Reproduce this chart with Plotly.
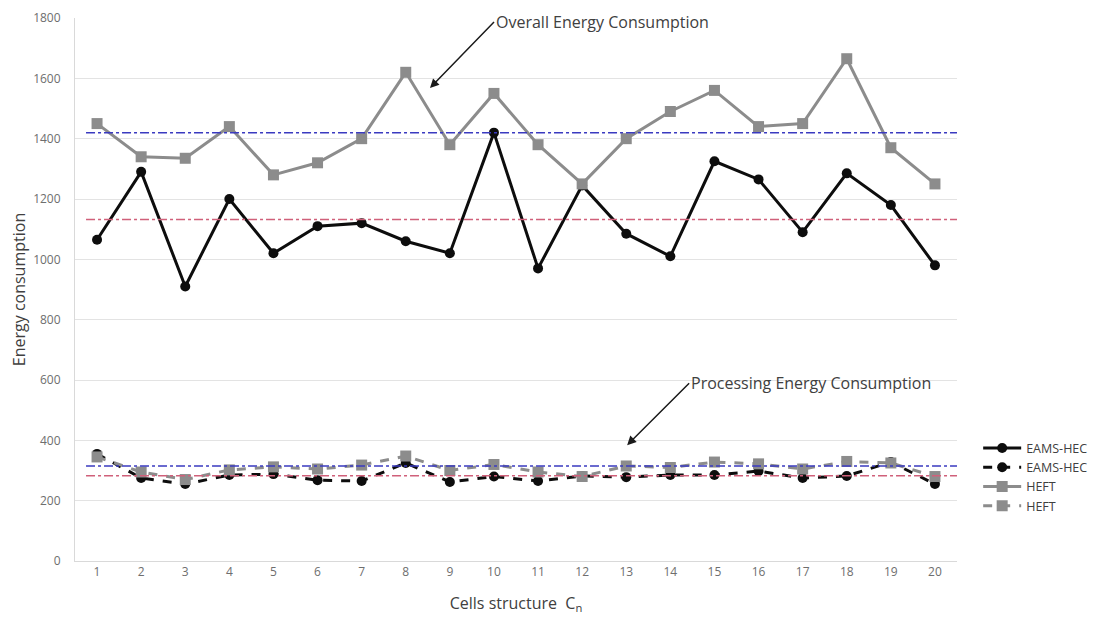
import plotly.graph_objects as go

cells = list(range(1, 21))
tick_labels = [str(c) for c in cells]

eams_overall = [1065, 1290, 910, 1200, 1020, 1110, 1120, 1060, 1020, 1420,
                970, 1245, 1085, 1010, 1325, 1265, 1090, 1285, 1180, 980]
heft_overall = [1450, 1340, 1335, 1440, 1280, 1320, 1400, 1620, 1380, 1550,
                1380, 1250, 1400, 1490, 1560, 1440, 1450, 1665, 1370, 1250]
eams_proc = [355, 275, 255, 285, 288, 268, 265, 325, 262, 280,
             265, 282, 278, 285, 285, 298, 275, 282, 328, 255]
heft_proc = [345, 295, 270, 302, 312, 305, 318, 348, 300, 320,
             295, 280, 315, 310, 328, 322, 305, 330, 325, 280]

avg_lines = [(1420, "#3a3ac0"), (1132, "#d0607a"), (315, "#3a3ac0"), (283, "#d0607a")]

BLACK = "#0d0d0d"
GRAY = "#8c8c8c"
FONT = "Open Sans"

fig = go.Figure()
fig.add_trace(go.Scatter(x=cells, y=eams_overall, name="EAMS-HEC", mode="lines+markers",
                         line=dict(color=BLACK, width=3), marker=dict(symbol="circle", size=10, color=BLACK)))
fig.add_trace(go.Scatter(x=cells, y=eams_proc, name="EAMS-HEC", mode="lines+markers",
                         line=dict(color=BLACK, width=3, dash="dash"), marker=dict(symbol="circle", size=10, color=BLACK)))
fig.add_trace(go.Scatter(x=cells, y=heft_overall, name="HEFT", mode="lines+markers",
                         line=dict(color=GRAY, width=3), marker=dict(symbol="square", size=11, color=GRAY)))
fig.add_trace(go.Scatter(x=cells, y=heft_proc, name="HEFT", mode="lines+markers",
                         line=dict(color=GRAY, width=3, dash="dash"), marker=dict(symbol="square", size=11, color=GRAY)))

for val, col in avg_lines:
    fig.add_shape(type="line", xref="x", yref="y", x0=0.75, x1=20.5, y0=val, y1=val,
                  line=dict(color=col, width=1.5, dash="dashdot"), layer="above")

fig.add_annotation(x=8.55, y=1568, xref="x", yref="y", ax=64, ay=-66,
                   text="Overall Energy Consumption", xanchor="left", yanchor="middle",
                   showarrow=True, arrowhead=2, arrowsize=1.2, arrowwidth=1.5, arrowcolor="#1a1a1a",
                   font=dict(family=FONT, size=16, color="#404040"))
fig.add_annotation(x=13.02, y=384, xref="x", yref="y", ax=62, ay=-62,
                   text="Processing Energy Consumption", xanchor="left", yanchor="middle",
                   showarrow=True, arrowhead=2, arrowsize=1.2, arrowwidth=1.5, arrowcolor="#1a1a1a",
                   font=dict(family=FONT, size=16, color="#404040"))

fig.update_layout(
    width=1106, height=620,
    margin=dict(l=67, r=157, t=10, b=67, autoexpand=False),
    paper_bgcolor="white", plot_bgcolor="white",
    font=dict(family=FONT, size=12, color="#6e6e6e"),
    legend=dict(x=1.024, y=0.155, xanchor="left", yanchor="middle",
                font=dict(family=FONT, size=12.5, color="#404040"),
                tracegroupgap=0, itemwidth=38, bgcolor="rgba(0,0,0,0)"),
    xaxis=dict(range=[0.5, 20.5], tickmode="array", tickvals=cells, ticktext=tick_labels,
               showgrid=False, showline=True, linecolor="#d9d9d9", linewidth=1, automargin=False,
               ticks="", tickfont=dict(size=12, color="#6e6e6e"), zeroline=False,
               title=dict(text="Cells structure  C<sub>n</sub>", font=dict(size=16, color="#404040"), standoff=18)),
    yaxis=dict(range=[0, 1800], tickvals=list(range(0, 1801, 200)), automargin=False,
               showgrid=True, gridcolor="#e3e3e3", gridwidth=1, ticklabelstandoff=11,
               showline=True, linecolor="#d9d9d9", zeroline=False,
               ticks="", tickfont=dict(size=12, color="#6e6e6e"),
               title=dict(text="Energy consumption", font=dict(size=16, color="#404040"), standoff=6)),
)

fig.write_html("out.html")
